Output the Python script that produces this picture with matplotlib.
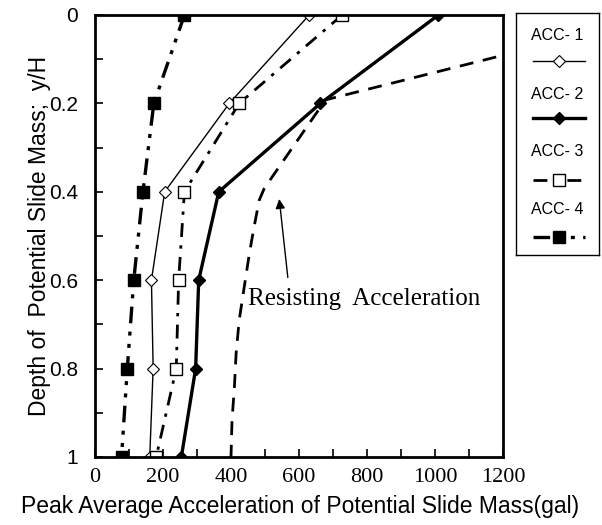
"""Peak average acceleration of a potential slide mass vs. depth (ACC-1..4) with resisting acceleration."""
import matplotlib
matplotlib.use("Agg")
import matplotlib.pyplot as plt
from matplotlib.ticker import MultipleLocator, FuncFormatter

# depth ratio y/H and peak average acceleration (gal) for each accelerometer
depth = [0.0, 0.2, 0.4, 0.6, 0.8, 1.0]
acc1 = [630, 395, 205, 166, 171, 161]
acc2 = [1010, 663, 364, 305, 296, 254]
acc3 = [727, 424, 263, 246, 239, 180]
acc4 = [263, 173, 141, 114, 95, 78]

# resisting acceleration curve
resist_x = [1180, 678, 498, 483, 468, 454, 439, 424, 415, 410, 403, 400]
resist_y = [0.095, 0.192, 0.392, 0.419, 0.479, 0.540, 0.615, 0.691, 0.766, 0.842, 0.917, 1.0]

labels = ["ACC- 1", "ACC- 2", "ACC- 3", "ACC- 4"]

SANS = "Liberation Sans"
SERIF = "Liberation Serif"
W, H = 602, 525

fig = plt.figure(figsize=(W / 100, H / 100), dpi=100)
ax = fig.add_axes([95 / W, 1 - 457 / H, 408 / W, 442 / H])

styles = [
    dict(ls="-", lw=1.0, marker="D", ms=6, mfc="white", mec="black", mew=0.8),
    dict(ls="-", lw=2.4, marker="D", ms=6, mfc="black", mec="black"),
    dict(ls=(0, (5, 3, 1.2, 3)), lw=2.0, marker="s", ms=8.5, mfc="white", mec="black", mew=1.0),
    dict(ls=(0, (5, 2.5, 1.2, 2.5, 1.2, 2.5)), lw=2.4, marker="s", ms=9, mfc="black", mec="black"),
]
for vals, st in zip([acc1, acc2, acc3, acc4], styles):
    ax.plot(vals, depth, color="black", **st)

ax.plot(resist_x, resist_y, color="black", lw=2.0, ls=(0, (5, 3.5)))

ax.annotate("", xy=(541, 0.41), xytext=(568, 0.60),
            arrowprops=dict(arrowstyle="-|>", color="black", lw=1.0, mutation_scale=14))
ax.text(450, 0.656, "Resisting  Acceleration", family=SERIF, fontsize=18, va="baseline")

ax.set_xlim(0, 1200)
ax.set_ylim(1, 0)
ax.xaxis.set_major_locator(MultipleLocator(100))
ax.yaxis.set_major_locator(MultipleLocator(0.1))
ax.xaxis.set_major_formatter(FuncFormatter(lambda v, p: f"{v:.0f}" if round(v) % 200 == 0 else ""))
ax.yaxis.set_major_formatter(FuncFormatter(
    lambda v, p: ("0" if v < 0.01 else "1" if v > 0.99 else f"{v:.1f}") if round(v * 10) % 2 == 0 else ""))
ax.tick_params(direction="in", length=6, width=1.2, top=False, right=False)
ax.tick_params(axis="x", pad=8, labelsize=16)
ax.tick_params(axis="y", pad=12, labelsize=15)
for lab in ax.get_xticklabels():
    lab.set_family(SERIF)
for lab in ax.get_yticklabels():
    lab.set_family(SANS)
for sp in ax.spines.values():
    sp.set_linewidth(2.0)

fig.text(300 / W, 1 - 506 / H, "Peak Average Acceleration of Potential Slide Mass(gal)",
         family=SANS, fontsize=16.5, ha="center", va="center")
fig.text(40 / W, 1 - 236 / H, "Depth of  Potential Slide Mass;  y/H",
         family=SANS, fontsize=16.5, ha="center", va="center", rotation=90)

# legend: label above each line sample, in its own framed box
lg = fig.add_axes([516 / W, 1 - 255 / H, 83 / W, 242 / H])
lg.set_xlim(0, 1)
lg.set_ylim(1, 0)
lg.set_xticks([])
lg.set_yticks([])
for sp in lg.spines.values():
    sp.set_linewidth(1.0)
label_y = [0.091, 0.335, 0.574, 0.814]
line_y = [0.198, 0.434, 0.690, 0.926]
for lab, ty, ly, st in zip(labels, label_y, line_y, styles):
    lg.text(0.5, ty, lab, family=SANS, fontsize=11.5, ha="center", va="center")
    lg.plot([0.2, 0.83], [ly, ly], color="black", markevery=[], **st)
    lg.plot([0.515], [ly], color="black", ls="none",
            **{k: v for k, v in st.items() if k not in ("ls", "lw")})

fig.savefig("out.png", dpi=100)
